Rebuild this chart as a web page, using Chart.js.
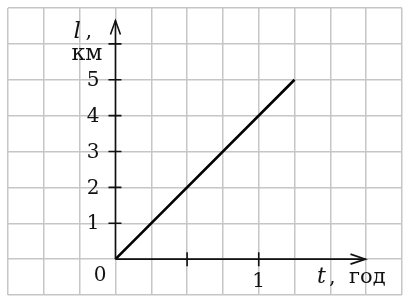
<!DOCTYPE html>
<html><head><meta charset="utf-8">
<script src="https://cdn.jsdelivr.net/npm/chart.js@4.4.0/dist/chart.umd.min.js"></script>
<style>html,body{margin:0;padding:0;background:#fff}#wrap{width:412px;height:304px}</style>
</head><body><div id="wrap"><canvas id="c" width="412" height="304"></canvas></div>
<script>
// data
const timeValues = [0, 1.25];      // t, год
const distValues = [0, 5];         // l, км
const yTickValues = [1, 2, 3, 4, 5, 6];
const yTickLabels = ['1', '2', '3', '4', '5', ''];
const xTickValues = [0.5, 1];
const xTickLabels = ['', '1'];
const yAxisTitle = ['l', ',', 'км'];
const xAxisTitle = ['t', ',', 'год'];

const SERIF = '"DejaVu Serif", "Liberation Serif", serif';

const axesPlugin = {
  id: 'axes',
  afterDatasetsDraw(chart) {
    const ctx = chart.ctx, xs = chart.scales.x, ys = chart.scales.y;
    const x0 = xs.getPixelForValue(0), y0 = ys.getPixelForValue(0);
    const yTop = ys.getPixelForValue(6.65), xEnd = xs.getPixelForValue(1.745);
    ctx.save();
    ctx.strokeStyle = '#111'; ctx.lineWidth = 1.6; ctx.lineCap = 'butt';
    ctx.beginPath();
    ctx.moveTo(x0, y0); ctx.lineTo(x0, yTop);
    ctx.moveTo(x0, y0); ctx.lineTo(xEnd, y0);
    ctx.stroke();
    // arrows
    ctx.beginPath();
    ctx.moveTo(x0 - 5, yTop + 14); ctx.lineTo(x0, yTop); ctx.lineTo(x0 + 5, yTop + 14);
    ctx.moveTo(xEnd - 15, y0 - 5); ctx.lineTo(xEnd, y0); ctx.lineTo(xEnd - 15, y0 + 5);
    ctx.stroke();
    // ticks
    ctx.beginPath();
    yTickValues.forEach(v => { const p = ys.getPixelForValue(v); ctx.moveTo(x0 - 7, p); ctx.lineTo(x0 + 6, p); });
    xTickValues.forEach(v => { const p = xs.getPixelForValue(v); ctx.moveTo(p, y0 - 7); ctx.lineTo(p, y0 + 7); });
    ctx.stroke();
    // labels
    ctx.fillStyle = '#111';
    ctx.font = '20px ' + SERIF;
    ctx.textAlign = 'right'; ctx.textBaseline = 'middle';
    yTickValues.forEach((v, i) => { if (yTickLabels[i]) ctx.fillText(yTickLabels[i], x0 - 16, ys.getPixelForValue(v) + 1); });
    ctx.textAlign = 'center';
    xTickValues.forEach((v, i) => { if (xTickLabels[i]) ctx.fillText(xTickLabels[i], xs.getPixelForValue(v), y0 + 23); });
    ctx.textAlign = 'right';
    ctx.fillText('0', x0 - 9, y0 + 17);
    // y title
    ctx.textBaseline = 'alphabetic';
    ctx.font = 'italic 23px ' + SERIF;
    ctx.textAlign = 'left';
    ctx.fillText(yAxisTitle[0], x0 - 42, 38);
    ctx.font = '21px ' + SERIF;
    ctx.fillText(yAxisTitle[1], x0 - 30, 37);
    ctx.font = '22px ' + SERIF;
    ctx.textAlign = 'right';
    ctx.fillText(yAxisTitle[2], x0 - 13, 60);
    // x title
    ctx.textAlign = 'left';
    ctx.font = 'italic 22px ' + SERIF;
    ctx.fillText(xAxisTitle[0], 317, 283);
    ctx.font = '21px ' + SERIF;
    ctx.fillText(xAxisTitle[1], 329, 283);
    ctx.font = '21px ' + SERIF;
    ctx.fillText(xAxisTitle[2], 349, 283);
    ctx.restore();
  }
};

new Chart(document.getElementById('c'), {
  type: 'scatter',
  data: {
    datasets: [{
      data: timeValues.map((t, i) => ({ x: t, y: distValues[i] })),
      showLine: true,
      borderColor: '#000',
      borderWidth: 2.6,
      pointRadius: 0,
      fill: false
    }]
  },
  options: {
    responsive: false,
    animation: false,
    events: [],
    layout: { padding: { left: 8, top: 8, right: 10, bottom: 9 } },
    plugins: { legend: { display: false }, tooltip: { enabled: false } },
    scales: {
      x: {
        type: 'linear', min: -0.75, max: 2, bounds: 'ticks',
        ticks: { display: false, stepSize: 0.25 },
        grid: { color: '#c6c6c6', lineWidth: 1.5, drawTicks: false },
        border: { display: false }
      },
      y: {
        type: 'linear', min: -1, max: 7,
        ticks: { display: false, stepSize: 1 },
        grid: { color: '#c6c6c6', lineWidth: 1.5, drawTicks: false },
        border: { display: false }
      }
    }
  },
  plugins: [axesPlugin]
});
</script>
</body></html>
